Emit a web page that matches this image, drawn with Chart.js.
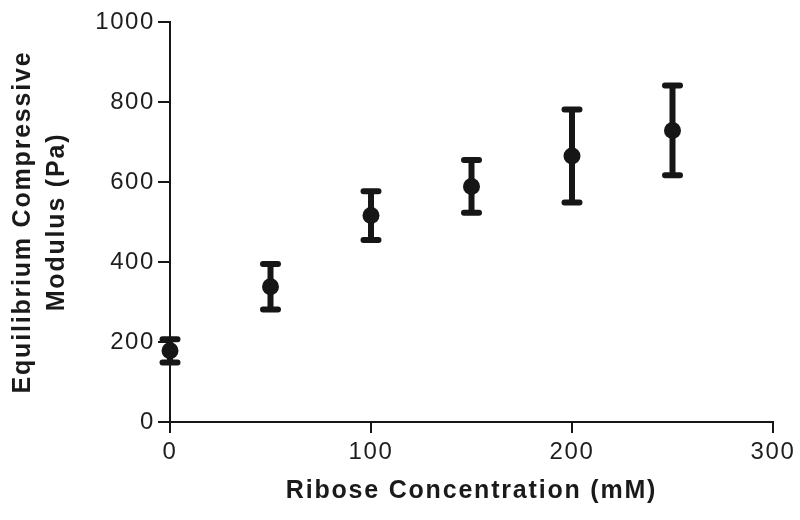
<!DOCTYPE html>
<html>
<head>
<meta charset="utf-8">
<script src="https://cdn.jsdelivr.net/npm/chart.js@4/dist/chart.umd.min.js"></script>
<style>
  html, body { margin: 0; padding: 0; background: #fff; }
  #wrap { width: 800px; height: 520px; position: relative; }
</style>
</head>
<body>
<div id="wrap"><canvas id="c" width="800" height="520"></canvas></div>
<script>
// Data
const riboseConc = [0, 50, 100, 150, 200, 250];          // mM
const modulusMean = [178, 338, 516, 589, 665, 729];      // Pa
const modulusErr  = [29, 57, 61, 66, 116, 112];          // Pa (error bar half-length)
const xTicks = [0, 100, 200, 300];
const yTicks = [0, 200, 400, 600, 800, 1000];
const xTitle = 'Ribose Concentration (mM)';
const yTitle = ['Equilibrium Compressive', 'Modulus (Pa)'];

const INK = '#161616';
const FONT = "'Liberation Sans', Arial, sans-serif";

const errorBars = {
  id: 'errorBars',
  beforeDatasetsDraw(chart) {
    const { ctx, scales: { x, y } } = chart;
    ctx.save();
    ctx.strokeStyle = INK;
    ctx.lineWidth = 6;
    ctx.lineCap = 'round';
    riboseConc.forEach((c, i) => {
      const px = x.getPixelForValue(c);
      const top = y.getPixelForValue(modulusMean[i] + modulusErr[i]);
      const bot = y.getPixelForValue(modulusMean[i] - modulusErr[i]);
      const hw = 7.5;
      ctx.beginPath();
      ctx.moveTo(px, top); ctx.lineTo(px, bot);
      ctx.moveTo(px - hw, top); ctx.lineTo(px + hw, top);
      ctx.moveTo(px - hw, bot); ctx.lineTo(px + hw, bot);
      ctx.stroke();
    });
    ctx.restore();
  }
};

// Slightly wider letter spacing for axis titles and tick labels
function wrapSpacing(scale, method, spacing) {
  const orig = scale[method];
  scale[method] = function () {
    const c = this.ctx;
    c.save();
    c.letterSpacing = spacing;
    orig.apply(this, arguments);
    c.restore();
  };
}
const textSpacing = {
  id: 'textSpacing',
  beforeDraw(chart) {
    Object.values(chart.scales).forEach(s => {
      if (s._spacingWrapped) return;
      wrapSpacing(s, 'drawTitle', '1.8px');
      wrapSpacing(s, 'drawLabels', '1.6px');
      s._spacingWrapped = true;
    });
  }
};

new Chart(document.getElementById('c'), {
  type: 'scatter',
  data: {
    datasets: [{
      data: riboseConc.map((c, i) => ({ x: c, y: modulusMean[i] })),
      backgroundColor: INK,
      borderColor: INK,
      pointRadius: 8.5,
      pointHoverRadius: 8.5,
      borderWidth: 0,
      clip: false
    }]
  },
  options: {
    responsive: false,
    animation: false,
    devicePixelRatio: 1,
    layout: { padding: { left: 0, right: 27, top: 22, bottom: 0 } },
    plugins: { legend: { display: false }, tooltip: { enabled: false } },
    scales: {
      x: {
        type: 'linear',
        min: 0, max: 300,
        afterBuildTicks(scale) { scale.ticks = xTicks.map(v => ({ value: v })); },
        afterFit(scale) { scale.height = 98; },
        grid: { display: true, drawOnChartArea: false, drawTicks: true, tickLength: 11, color: INK, lineWidth: 2 },
        border: { display: true, color: INK, width: 2 },
        ticks: { color: '#1e1e1e', font: { family: FONT, size: 24 }, padding: 5, maxRotation: 0,
                 callback: v => String(v) },
        title: { display: true, text: xTitle, color: '#1a1a1a',
                 font: { family: FONT, size: 25, weight: 'bold', lineHeight: 1.2 },
                 padding: { top: 0, bottom: 14 } }
      },
      y: {
        type: 'linear',
        min: 0, max: 1000,
        afterBuildTicks(scale) { scale.ticks = yTicks.map(v => ({ value: v })); },
        afterFit(scale) { scale.width = 170; },
        grid: { display: true, drawOnChartArea: false, drawTicks: true, tickLength: 12, color: INK, lineWidth: 2 },
        border: { display: true, color: INK, width: 2 },
        ticks: { color: '#1e1e1e', font: { family: FONT, size: 24 }, padding: 3,
                 callback: v => String(v) },
        title: { display: true, text: yTitle, color: '#1a1a1a',
                 font: { family: FONT, size: 25, weight: 'bold', lineHeight: 1.36 },
                 padding: { top: 6, bottom: 0 } }
      }
    }
  },
  plugins: [errorBars, textSpacing]
});
</script>
</body>
</html>
